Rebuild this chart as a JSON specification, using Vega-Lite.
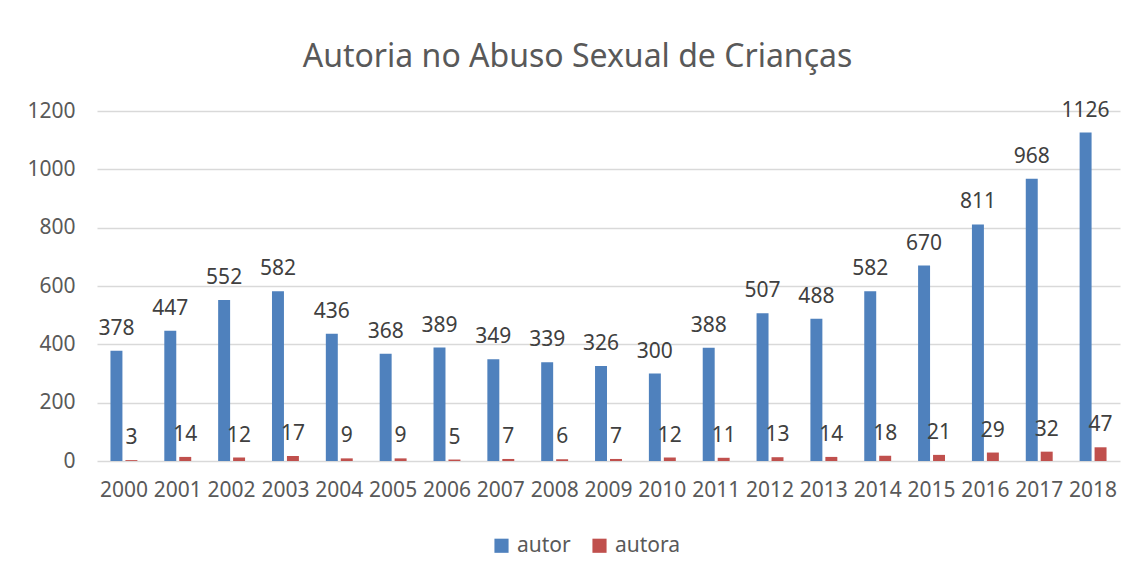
{
  "$schema": "https://vega.github.io/schema/vega-lite/v6.json",
  "autosize": {"type": "none"},
  "width": 1023,
  "height": 350,
  "padding": {"left": 97, "top": 111, "right": 14, "bottom": 116},
  "background": "white",
  "title": {
    "text": "Autoria no Abuso Sexual de Crianças",
    "font": "Noto Sans",
    "fontSize": 32,
    "fontWeight": "normal",
    "color": "#595959",
    "anchor": "middle",
    "dx": -31,
    "offset": 26
  },
  "data": {
    "values": [
      {"ano": "2000", "serie": "autor", "valor": 378}, {"ano": "2000", "serie": "autora", "valor": 3},
      {"ano": "2001", "serie": "autor", "valor": 447}, {"ano": "2001", "serie": "autora", "valor": 14},
      {"ano": "2002", "serie": "autor", "valor": 552}, {"ano": "2002", "serie": "autora", "valor": 12},
      {"ano": "2003", "serie": "autor", "valor": 582}, {"ano": "2003", "serie": "autora", "valor": 17},
      {"ano": "2004", "serie": "autor", "valor": 436}, {"ano": "2004", "serie": "autora", "valor": 9},
      {"ano": "2005", "serie": "autor", "valor": 368}, {"ano": "2005", "serie": "autora", "valor": 9},
      {"ano": "2006", "serie": "autor", "valor": 389}, {"ano": "2006", "serie": "autora", "valor": 5},
      {"ano": "2007", "serie": "autor", "valor": 349}, {"ano": "2007", "serie": "autora", "valor": 7},
      {"ano": "2008", "serie": "autor", "valor": 339}, {"ano": "2008", "serie": "autora", "valor": 6},
      {"ano": "2009", "serie": "autor", "valor": 326}, {"ano": "2009", "serie": "autora", "valor": 7},
      {"ano": "2010", "serie": "autor", "valor": 300}, {"ano": "2010", "serie": "autora", "valor": 12},
      {"ano": "2011", "serie": "autor", "valor": 388}, {"ano": "2011", "serie": "autora", "valor": 11},
      {"ano": "2012", "serie": "autor", "valor": 507}, {"ano": "2012", "serie": "autora", "valor": 13},
      {"ano": "2013", "serie": "autor", "valor": 488}, {"ano": "2013", "serie": "autora", "valor": 14},
      {"ano": "2014", "serie": "autor", "valor": 582}, {"ano": "2014", "serie": "autora", "valor": 18},
      {"ano": "2015", "serie": "autor", "valor": 670}, {"ano": "2015", "serie": "autora", "valor": 21},
      {"ano": "2016", "serie": "autor", "valor": 811}, {"ano": "2016", "serie": "autora", "valor": 29},
      {"ano": "2017", "serie": "autor", "valor": 968}, {"ano": "2017", "serie": "autora", "valor": 32},
      {"ano": "2018", "serie": "autor", "valor": 1126}, {"ano": "2018", "serie": "autora", "valor": 47}
    ]
  },
  "encoding": {
    "x": {
      "field": "ano",
      "type": "nominal",
      "title": null,
      "scale": {"paddingInner": 0.5, "paddingOuter": 0.25},
      "axis": {
        "labelAngle": 0,
        "ticks": false,
        "domain": false,
        "labelPadding": 18,
        "labelFont": "Noto Sans",
        "labelFontSize": 21,
        "labelColor": "#595959"
      }
    },
    "xOffset": {"field": "serie", "type": "nominal", "scale": {"paddingInner": 0.2, "paddingOuter": 0}},
    "y": {
      "field": "valor",
      "type": "quantitative",
      "title": null,
      "scale": {"domain": [0, 1200], "nice": false},
      "axis": {
        "values": [0, 200, 400, 600, 800, 1000, 1200],
        "format": "d",
        "ticks": false,
        "domain": false,
        "labelPadding": 22,
        "labelFont": "Noto Sans",
        "labelFontSize": 21,
        "labelColor": "#595959",
        "gridColor": "#D9D9D9",
        "gridWidth": 1.5
      }
    }
  },
  "layer": [
    {
      "mark": {"type": "bar"},
      "encoding": {
        "color": {
          "field": "serie",
          "type": "nominal",
          "scale": {"domain": ["autor", "autora"], "range": ["#4F81BD", "#C0504D"]},
          "legend": {
            "title": null,
            "orient": "none",
            "direction": "horizontal",
            "legendX": 394,
            "legendY": 424,
            "symbolType": "square",
            "symbolSize": 200,
            "symbolStrokeWidth": 0,
            "labelFont": "Noto Sans",
            "labelFontSize": 21,
            "labelColor": "#595959",
            "columnPadding": 18,
            "labelOffset": 5
          }
        }
      }
    },
    {
      "mark": {
        "type": "text",
        "baseline": "bottom",
        "dy": -12,
        "font": "Noto Sans",
        "fontSize": 21,
        "color": "#404040"
      },
      "encoding": {"text": {"field": "valor", "type": "quantitative"}}
    }
  ],
  "config": {"view": {"stroke": null}}
}
